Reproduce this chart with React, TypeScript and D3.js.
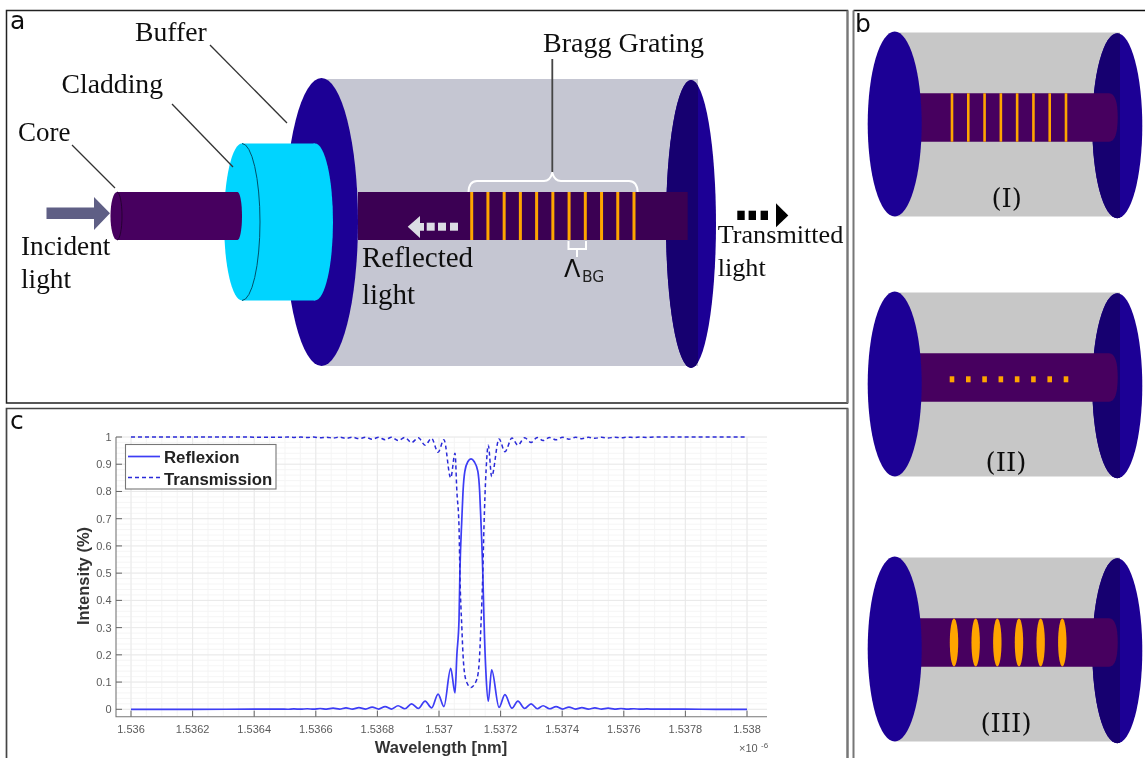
import React from "react";
import * as d3 from "d3";

const wavelengths = [1.536, 1.5362, 1.5364, 1.536487, 1.536508, 1.536529, 1.536551, 1.536572, 1.536593, 1.536614, 1.536635, 1.536656, 1.536677, 1.536698, 1.536719, 1.53674, 1.536762, 1.536783, 1.536804, 1.536825, 1.536846, 1.536867, 1.536889, 1.536911, 1.536933, 1.536955, 1.536976, 1.536997, 1.537016, 1.537038, 1.537052, 1.537058, 1.537065, 1.537068, 1.537074, 1.537078, 1.537084, 1.537094, 1.537104, 1.537114, 1.537126, 1.537132, 1.537136, 1.537142, 1.537146, 1.537153, 1.53716, 1.537171, 1.537195, 1.537214, 1.537237, 1.537256, 1.537278, 1.537299, 1.537319, 1.537338, 1.537359, 1.53738, 1.537401, 1.537422, 1.537443, 1.537464, 1.537485, 1.537506, 1.537528, 1.537549, 1.53757, 1.537591, 1.537612, 1.537633, 1.537654, 1.537675, 1.5377, 1.5378, 1.5379, 1.538];
const reflexion = [0, 0, 0.0005, 0.001, 0.0002, 0.0015, 0.0003, 0.002, 0.0004, 0.003, 0.0005, 0.004, 0.0006, 0.005, 0.0008, 0.006, 0.001, 0.008, 0.001, 0.01, 0.001, 0.013, 0.002, 0.02, 0.003, 0.03, 0.005, 0.056, 0.01, 0.15, 0.06, 0.2, 0.33, 0.51, 0.695, 0.8, 0.875, 0.91, 0.92, 0.91, 0.875, 0.8, 0.695, 0.51, 0.33, 0.12, 0.03, 0.145, 0.007, 0.054, 0.004, 0.03, 0.003, 0.02, 0.002, 0.013, 0.002, 0.01, 0.001, 0.008, 0.001, 0.006, 0.001, 0.005, 0.001, 0.004, 0.0005, 0.003, 0.0005, 0.002, 0.0003, 0.0015, 0.0003, 0.0003, 0, 0];
const transmission = [1, 1, 0.9995, 0.999, 0.9998, 0.9985, 0.9997, 0.998, 0.9996, 0.997, 0.9995, 0.996, 0.9994, 0.995, 0.9992, 0.994, 0.999, 0.992, 0.999, 0.99, 0.999, 0.987, 0.998, 0.98, 0.997, 0.97, 0.995, 0.944, 0.99, 0.85, 0.94, 0.8, 0.67, 0.49, 0.305, 0.2, 0.125, 0.09, 0.08, 0.09, 0.125, 0.2, 0.305, 0.49, 0.67, 0.88, 0.97, 0.855, 0.993, 0.946, 0.996, 0.97, 0.997, 0.98, 0.998, 0.987, 0.998, 0.99, 0.999, 0.992, 0.999, 0.994, 0.999, 0.995, 0.999, 0.996, 0.9995, 0.997, 0.9995, 0.998, 0.9997, 0.9985, 0.9997, 0.9997, 1, 1];

const xTicks = [1.536, 1.5362, 1.5364, 1.5366, 1.5368, 1.537, 1.5372, 1.5374, 1.5376, 1.5378, 1.538];
const yTicks = [0, 0.1, 0.2, 0.3, 0.4, 0.5, 0.6, 0.7, 0.8, 0.9, 1];
const legendLabels = ["Reflexion", "Transmission"];
const cylinderLabels = ["(I)", "(II)", "(III)"];

const SERIF = "'Liberation Serif', serif";
const SANS = "'Liberation Sans', Arial, sans-serif";
const DJV = "'DejaVu Sans', sans-serif";
const DJS = "'DejaVu Serif', serif";

const NAVY = "#1e0095";
const NAVY_D = "#17006f";
const CORE = "#47005f";
const CORE_D = "#3a0052";
const ORANGE = "#ffa500";
const CYAN = "#00d4ff";

const x = d3.scaleLinear().domain([1.536, 1.538]).range([131, 747]);
const y = d3.scaleLinear().domain([0, 1]).range([709.3, 437]);
const PL = 116, PR = 767, PT = 437, PB = 716.7;

const lineOf = (vals: number[]) =>
  d3.line<number>().x((_, i) => x(wavelengths[i])).y((d) => y(d)).curve(d3.curveMonotoneX)(vals) as string;

const minorX = d3.range(1.536, 1.53801, 0.00005);
const minorY = d3.range(0, 1.001, 0.02);

const gratingA = d3.range(11).map(d3.scaleLinear().domain([0, 10]).range([471.7, 634]));
const gratingB = d3.range(8).map(d3.scaleLinear().domain([0, 7]).range([952, 1066]));
const gratingC = d3.range(6).map(d3.scaleLinear().domain([0, 5]).range([954, 1062.3]));

function Cylinder({ dy, idx, children }: { dy: number; idx: number; children: React.ReactNode }) {
  const id = `clipR${idx}`;
  return (
    <g transform={`translate(0,${dy})`}>
      <rect x={895} y={32.5} width={225} height={184} fill="#c7c7c7" />
      <ellipse cx={1117.3} cy={125.8} rx={25} ry={92.5} fill={NAVY} />
      <clipPath id={id}><ellipse cx={1117.3} cy={125.8} rx={25} ry={92.5} /></clipPath>
      <rect x={1090} y={30} width={30} height={192} fill={NAVY_D} clipPath={`url(#${id})`} />
      <path d="M915,93.3 H1109 Q1117.7,93.3 1117.7,117.5 Q1117.7,141.7 1109,141.7 H915 Z" fill={CORE} />
      <ellipse cx={894.7} cy={124} rx={27} ry={92.5} fill={NAVY} />
      {children}
    </g>
  );
}

export default function App() {
  return (
    <svg width={1145} height={758} viewBox="0 0 1145 758" style={{ position: "absolute", left: 0, top: 0, display: "block", background: "#fff" }}>
      <defs>
        <filter id="soft" x="0" y="0" width="100%" height="100%" filterUnits="objectBoundingBox">
          <feGaussianBlur stdDeviation="0.6" />
        </filter>
        <clipPath id="clipA"><ellipse cx={691} cy={224} rx={25} ry={144} /></clipPath>
      </defs>
      <g filter="url(#soft)">
        <rect width={1145} height={758} fill="#fff" />
        {/* panel frames */}
        <rect x={6.5} y={10.5} width={841} height={392.5} fill="none" stroke="#222" strokeWidth={1.5} />
        <path d="M847.5,10.5 V403" stroke="#777" strokeWidth={2} fill="none" />
        <path d="M853.5,10.5 H1145" stroke="#111" strokeWidth={1.5} fill="none" />
        <path d="M853.5,10.5 V758" stroke="#777" strokeWidth={2} fill="none" />
        <path d="M6.5,758 V408.5 H847.5 V758" stroke="#444" strokeWidth={1.7} fill="none" />
        <path d="M847.5,408.5 V758" stroke="#777" strokeWidth={2} fill="none" />

        {/* panel a */}
        <rect x={321} y={79} width={377} height={287} fill="#c5c6d2" />
        <ellipse cx={691} cy={224} rx={25} ry={144} fill={NAVY} />
        <rect x={660} y={70} width={38} height={310} fill={NAVY_D} clipPath="url(#clipA)" />
        <ellipse cx={321.5} cy={222} rx={36.5} ry={144} fill={NAVY} />
        <rect x={358} y={192} width={329.7} height={48} fill={CORE_D} />

        {gratingA.map((gx) => (
          <line key={gx} x1={gx} x2={gx} y1={192} y2={240} stroke={ORANGE} strokeWidth={3} />
        ))}
        <path d="M468.5,192 Q469,181 477,181 H544 Q550,181 552.3,173 Q554.6,181 561,181 H629 Q637,181 637.7,192" fill="none" stroke="#fff" strokeWidth={2} />
        <path d="M568.5,241 V249 H586 V241 M577,249 V257" fill="none" stroke="#fff" strokeWidth={2} />

        {/* cladding */}
        <rect x={242} y={143.5} width={73} height={157} fill={CYAN} />
        <ellipse cx={315} cy={222} rx={18} ry={78.5} fill={CYAN} />
        <ellipse cx={242} cy={222} rx={18} ry={78.5} fill={CYAN} />
        <path d="M242,143.5 A18,78.5 0 0 1 242,300.5" fill="none" stroke="#00506a" strokeWidth={1} />

        {/* core */}
        <rect x={117} y={192} width={120.5} height={48} fill={CORE} />
        <ellipse cx={237.5} cy={216} rx={4.5} ry={24} fill={CORE} />
        <ellipse cx={117} cy={216} rx={6.5} ry={24} fill={CORE} />
        <path d="M117,192 A5,24 0 0 1 117,240" fill="none" stroke="#24002f" strokeWidth={0.9} />

        {/* incident arrow */}
        <path d="M46.5,207.5 H94 V197 L110,213.3 L94,230 V219 H46.5 Z" fill="#5f5f85" />
        {/* reflected arrow */}
        <path d="M407.7,226.7 L420,216 V223 H424 V230.7 H420 V238 Z" fill="#dcdce4" />
        {[426.7, 438, 450].map((sx) => <rect key={sx} x={sx} y={222.7} width={8} height={8} fill="#dcdce4" />)}
        {/* transmitted arrow */}
        {[737.3, 748.6, 760.6].map((sx) => <rect key={sx} x={sx} y={210.7} width={7.4} height={9.3} fill="#000" />)}
        <path d="M776,203.3 L788.3,215.5 L776,227.3 Z" fill="#000" />

        {/* leaders */}
        <g stroke="#333" strokeWidth={1.3}>
          <line x1={210} y1={45} x2={287} y2={123} />
          <line x1={172} y1={104} x2={233} y2={167} />
          <line x1={72} y1={145} x2={115} y2={188} />
        </g>
        <line x1={552.3} y1={59} x2={552.3} y2={172} stroke="#444" strokeWidth={1.8} />

        {/* labels a */}
        <g fontFamily={SERIF} fill="#111">
          <text x={135} y={41} fontSize={27.7}>Buffer</text>
          <text x={61.5} y={93} fontSize={27.7}>Cladding</text>
          <text x={18} y={141} fontSize={27}>Core</text>
          <text x={21} y={255} fontSize={27.3}>Incident</text>
          <text x={21} y={288} fontSize={27.3}>light</text>
          <text x={362} y={267} fontSize={29}>Reflected</text>
          <text x={362} y={304} fontSize={29}>light</text>
          <text x={543} y={52} fontSize={28}>Bragg Grating</text>
          <text x={717.7} y={243} fontSize={26.2}>Transmitted</text>
          <text x={717.7} y={276} fontSize={26.2}>light</text>
        </g>
        <text x={564} y={277} fontFamily={DJV} fontSize={24} fill="#111">Λ</text>
        <text x={582} y={282} fontFamily={DJV} fontSize={15.5} fill="#222">BG</text>

        <g fontFamily={DJV} fontSize={25} fill="#111">
          <text x={10} y={29}>a</text>
          <text x={855} y={32}>b</text>
          <text x={10} y={429}>c</text>
        </g>

        {/* panel b */}
        <Cylinder dy={0} idx={0}>
          {gratingB.map((gx) => <line key={gx} x1={gx} x2={gx} y1={93.3} y2={141.7} stroke={ORANGE} strokeWidth={2.6} />)}
        </Cylinder>
        <Cylinder dy={260} idx={1}>
          {gratingB.map((gx) => <rect key={gx} x={gx - 2.3} y={116.3} width={4.6} height={6} fill={ORANGE} />)}
        </Cylinder>
        <Cylinder dy={525} idx={2}>
          {gratingC.map((gx) => <ellipse key={gx} cx={gx} cy={117.5} rx={4.2} ry={24} fill={ORANGE} />)}
        </Cylinder>
        <g fontFamily={DJS} fontSize={26} fill="#111" textAnchor="middle">
          <text x={1006.7} y={207}>{cylinderLabels[0]}</text>
          <text x={1006} y={471}>{cylinderLabels[1]}</text>
          <text x={1006} y={732}>{cylinderLabels[2]}</text>
        </g>

        {/* panel c: grid */}
        <g stroke="#f4f4f4" strokeWidth={0.9}>
          {minorX.map((v) => <line key={v} x1={x(v)} x2={x(v)} y1={PT} y2={PB} />)}
          {minorY.map((v) => <line key={v} x1={PL} x2={PR} y1={y(v)} y2={y(v)} />)}
        </g>
        <g stroke="#e8e8e8" strokeWidth={0.9}>
          {xTicks.map((v) => <line key={v} x1={x(v)} x2={x(v)} y1={PT} y2={PB} />)}
          {yTicks.map((v) => <line key={v} x1={PL} x2={PR} y1={y(v)} y2={y(v)} />)}
        </g>
        {/* axes */}
        <path d={`M${PL},${PT} V${PB} H${PR}`} fill="none" stroke="#777" strokeWidth={1.1} />
        <g stroke="#666" strokeWidth={1}>
          {xTicks.map((v) => <line key={v} x1={x(v)} x2={x(v)} y1={PB} y2={PB - 6} />)}
          {yTicks.map((v) => <line key={v} x1={PL} x2={PL + 6} y1={y(v)} y2={y(v)} />)}
        </g>
        <g fontFamily={SANS} fontSize={11} fill="#5a5a5a">
          {xTicks.map((v) => <text key={v} x={x(v)} y={733} textAnchor="middle">{String(v)}</text>)}
          {yTicks.map((v) => <text key={v} x={111.5} y={y(v) + 4} textAnchor="end">{String(v)}</text>)}
        </g>
        <text x={441} y={753} textAnchor="middle" fontFamily={SANS} fontWeight="bold" fontSize={16.5} fill="#333">Wavelength [nm]</text>
        <text transform="translate(89,576) rotate(-90)" textAnchor="middle" fontFamily={SANS} fontWeight="bold" fontSize={16.5} fill="#333">Intensity (%)</text>
        <text x={739} y={752} fontFamily={SANS} fontSize={11} fill="#5a5a5a">×10</text>
        <text x={761} y={748} fontFamily={SANS} fontSize={8} fill="#5a5a5a">-6</text>

        {/* series */}
        <path d={lineOf(reflexion)} fill="none" stroke="#3c3cf5" strokeWidth={1.7} />
        <path d={lineOf(transmission)} fill="none" stroke="#2a2ad8" strokeWidth={1.5} strokeDasharray="4 3" />

        {/* legend */}
        <rect x={125.5} y={444.5} width={150.5} height={44.5} fill="#fff" stroke="#777" strokeWidth={1.1} />
        <line x1={128} x2={160} y1={456.5} y2={456.5} stroke="#3c3cf5" strokeWidth={1.7} />
        <line x1={128} x2={160} y1={477.5} y2={477.5} stroke="#2a2ad8" strokeWidth={1.5} strokeDasharray="4 3" />
        <g fontFamily={SANS} fontWeight="bold" fontSize={16.8} fill="#222">
          <text x={164} y={462.5}>{legendLabels[0]}</text>
          <text x={164} y={484.5}>{legendLabels[1]}</text>
        </g>
      </g>
    </svg>
  );
}
